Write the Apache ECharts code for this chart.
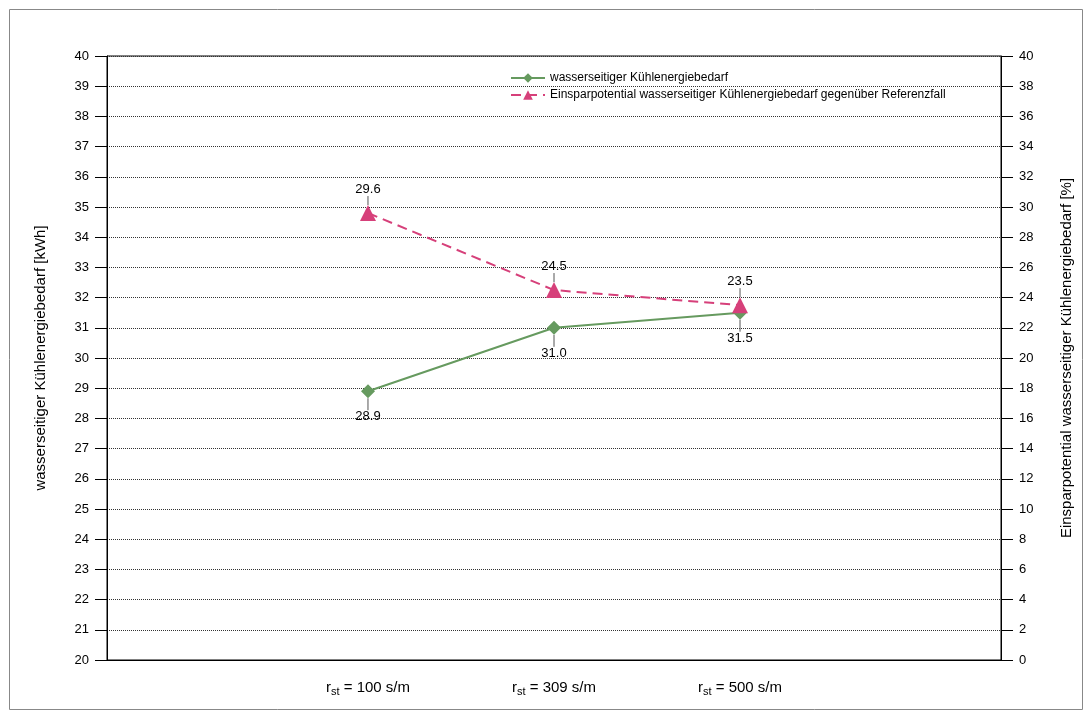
<!DOCTYPE html>
<html><head><meta charset="utf-8">
<script src="https://cdn.jsdelivr.net/npm/echarts@6/dist/echarts.min.js"></script>
<style>html,body{margin:0;padding:0;background:#fff}#c{width:1092px;height:720px}</style>
</head><body><div id="c"></div>
<script>
const categories = ['100 s/m', '309 s/m', '500 s/m'];
const seriesNames = ['wasserseitiger Kühlenergiebedarf', 'Einsparpotential wasserseitiger Kühlenergiebedarf gegenüber Referenzfall'];
const energy = [28.9, 31.0, 31.5];
const savings = [29.6, 24.5, 23.5];
const leftAxisName = 'wasserseitiger Kühlenergiebedarf [kWh]';
const rightAxisName = 'Einsparpotential wasserseitiger Kühlenergiebedarf [%]';

const font = 'Liberation Sans, Arial, sans-serif';
const green = '#669a5f';
const pink = '#d6407a';
const chart = echarts.init(document.getElementById('c'), null, {renderer: 'canvas'});
const idx = categories.map((c, i) => i);
chart.setOption({
  animation: false,
  textStyle: {fontFamily: font},
  graphic: [{type: 'rect', shape: {x: 9.5, y: 9.5, width: 1073, height: 700}, style: {fill: 'none', stroke: '#888', lineWidth: 1}, z: -1}],
  grid: {left: 107, right: 91, top: 56, bottom: 60, show: true, borderColor: '#000', borderWidth: 1},
  legend: {
    orient: 'vertical', left: 505, top: 67, itemGap: 5, itemWidth: 34, itemHeight: 12,
    textStyle: {fontFamily: font, fontSize: 12, color: '#000'},
    data: seriesNames
  },
  xAxis: {
    type: 'value', min: -1.403, max: 3.403, splitLine: {show: false},
    axisLine: {show: true, onZero: false, lineStyle: {color: '#000'}}, axisTick: {show: false},
    axisLabel: {
      customValues: idx, margin: 18, color: '#000', fontSize: 15, fontFamily: font,
      formatter: v => '{r|r}{s|st}{r| = ' + categories[Math.round(v)] + '}',
      rich: {r: {fontSize: 15, fontFamily: font, color: '#000'}, s: {fontSize: 11, fontFamily: font, color: '#000', padding: [8, 0, 0, 0]}}
    }
  },
  yAxis: [{
    type: 'value', min: 20, max: 40, interval: 1, position: 'left',
    name: leftAxisName, nameLocation: 'middle', nameGap: 59, nameRotate: 90,
    nameTextStyle: {fontSize: 15, color: '#000', fontFamily: font},
    axisLine: {show: true, onZero: false, lineStyle: {color: '#000'}},
    axisTick: {show: true, length: 12, lineStyle: {color: '#000'}},
    axisLabel: {color: '#000', fontSize: 13, margin: 18, fontFamily: font},
    splitLine: {show: true, lineStyle: {type: 'dotted', color: '#333', width: 1}}
  }, {
    type: 'value', min: 0, max: 40, interval: 2, position: 'right',
    name: rightAxisName, nameLocation: 'middle', nameGap: 58, nameRotate: 90,
    nameTextStyle: {fontSize: 15, color: '#000', fontFamily: font},
    axisLine: {show: true, onZero: false, lineStyle: {color: '#000'}},
    axisTick: {show: true, length: 12, lineStyle: {color: '#000'}},
    axisLabel: {color: '#000', fontSize: 13, margin: 18, fontFamily: font},
    splitLine: {show: false}
  }],
  series: [{
    name: seriesNames[0], type: 'line', yAxisIndex: 0,
    data: energy.map((v, i) => [idx[i], v]),
    symbol: 'diamond', symbolSize: 14, color: green,
    lineStyle: {color: green, width: 2}, itemStyle: {color: green},
    label: {show: true, position: 'bottom', distance: 4, color: '#000', fontSize: 13, fontFamily: font, formatter: p => p.value[1].toFixed(1)},
    labelLayout: {dy: 8},
    labelLine: {show: true, lineStyle: {color: '#555', width: 1}}
  }, {
    name: seriesNames[1], type: 'line', yAxisIndex: 1,
    data: savings.map((v, i) => [idx[i], v]),
    symbol: 'triangle', symbolSize: 16, color: pink,
    lineStyle: {color: pink, width: 2, type: [10, 6]}, itemStyle: {color: pink},
    label: {show: true, position: 'top', distance: 4, color: '#000', fontSize: 13, fontFamily: font, formatter: p => p.value[1].toFixed(1)},
    labelLayout: {dy: -5},
    labelLine: {show: true, lineStyle: {color: '#555', width: 1}}
  }]
});
</script></body></html>
